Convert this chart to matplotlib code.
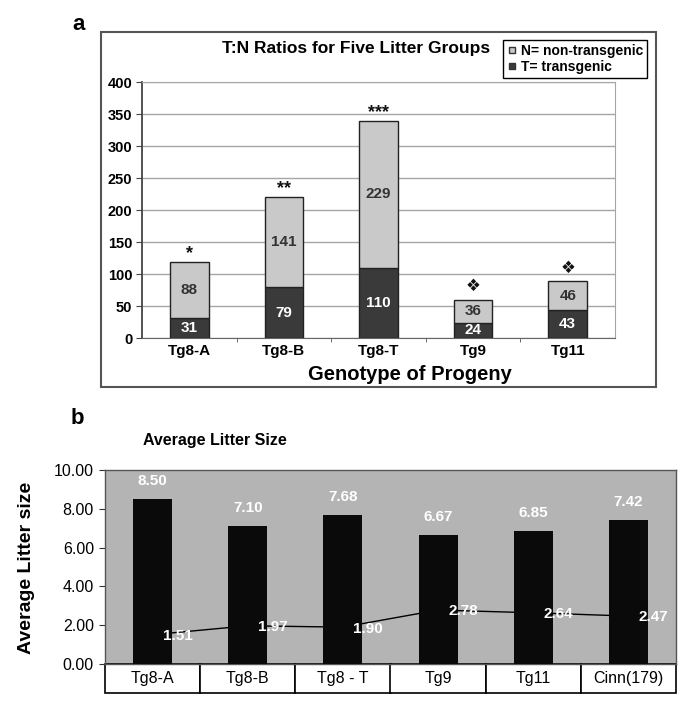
import matplotlib
matplotlib.use("Agg")
import matplotlib.pyplot as plt
import matplotlib.transforms as mtransforms
from matplotlib.patches import Rectangle
from matplotlib.lines import Line2D
import numpy as np

plt.rcParams['font.family'] = ['Liberation Sans', 'DejaVu Sans']

# panel a data
groups_a = ['Tg8-A', 'Tg8-B', 'Tg8-T', 'Tg9', 'Tg11']
transgenic = [31, 79, 110, 24, 43]
non_transgenic = [88, 141, 229, 36, 46]
signif = ['*', '**', '***', '\u2756', '\u2756']

# panel b data
groups_b = ['Tg8-A', 'Tg8-B', 'Tg8 - T', 'Tg9', 'Tg11', 'Cinn(179)']
litter_size = [8.50, 7.10, 7.68, 6.67, 6.85, 7.42]
ratio_line = [1.51, 1.97, 1.90, 2.78, 2.64, 2.47]

W, H = 685, 704
fig = plt.figure(figsize=(W / 100, H / 100), dpi=100)

dark = '#3a3a3a'
light = '#c9c9c9'

# ---------------- panel a ----------------
fig.patches.append(Rectangle((101 / W, 1 - 387 / H), 555 / W, 355 / H,
                             transform=fig.transFigure, fill=False,
                             edgecolor='#555555', lw=1.5))
fig.text(79 / W, 1 - 25 / H, 'a', fontsize=16, fontweight='bold',
         ha='center', va='center')

axa = fig.add_axes([142 / W, 1 - 338 / H, 473 / W, 256 / H])
x = np.arange(len(groups_a))
axa.bar(x, transgenic, 0.41, color=dark, edgecolor='#222222', lw=1, zorder=3)
axa.bar(x, non_transgenic, 0.41, bottom=transgenic, color=light,
        edgecolor='#222222', lw=1, zorder=3)
for i in range(len(x)):
    t = transgenic[i]
    n = non_transgenic[i]
    axa.text(x[i], t / 2, str(t), color='white', fontsize=11,
             fontweight='bold', ha='center', va='center', zorder=4)
    axa.text(x[i], t + n / 2, str(n), color='#333333', fontsize=11,
             fontweight='bold', ha='center', va='center', zorder=4)
    if signif[i] == '\u2756':
        axa.annotate(signif[i], (x[i], t + n), xytext=(0, 3),
                     textcoords='offset points', ha='center', va='bottom',
                     fontsize=12, family='DejaVu Sans', color='#111111')
    else:
        axa.annotate(signif[i], (x[i], t + n), xytext=(0, 3),
                     textcoords='offset points', ha='center', va='baseline',
                     fontsize=13, fontweight='bold', color='#111111')

axa.set_xlim(-0.5, 4.5)
axa.set_ylim(0, 400)
axa.set_yticks(np.arange(0, 401, 50))
axa.yaxis.grid(True, color='#a6a6a6', lw=1)
axa.set_axisbelow(True)
axa.set_xticks(x)
axa.set_xticklabels(groups_a, fontsize=11, fontweight='bold')
axa.set_xticks(np.arange(0.5, 4.5, 1), minor=True)
axa.tick_params(axis='x', which='major', length=0, pad=4)
axa.tick_params(axis='x', which='minor', length=3, color='#555555',
                direction='out')
axa.tick_params(axis='y', length=4, color='#444444', pad=3)
for lab in axa.get_yticklabels():
    lab.set_fontweight('bold')
    lab.set_fontsize(10.5)
axa.spines['left'].set_color('#444444')
axa.spines['left'].set_linewidth(1.3)
axa.spines['bottom'].set_color('#666666')
for s in ['top', 'right']:
    axa.spines[s].set_color('#a6a6a6')

fig.text(356 / W, 1 - 48 / H, 'T:N Ratios for Five Litter Groups',
         fontsize=12.5, fontweight='bold', ha='center', va='center')
fig.text(410 / W, 1 - 375 / H, 'Genotype of Progeny', fontsize=14.5,
         fontweight='bold', ha='center', va='center')

handles = [Line2D([], [], marker='s', ls='none', mfc=light, mec='#333333',
                  ms=5),
           Line2D([], [], marker='s', ls='none', mfc=dark, mec='#333333',
                  ms=5)]
leg = fig.legend(handles, ['N= non-transgenic', 'T= transgenic'],
                 loc='upper right', bbox_to_anchor=(647 / W, 1 - 40 / H),
                 bbox_transform=fig.transFigure, frameon=True, fancybox=False,
                 edgecolor='black', framealpha=1, borderpad=0.3,
                 borderaxespad=0, handletextpad=0.2, handlelength=0.8,
                 labelspacing=0.15, prop={'weight': 'bold', 'size': 10})
leg.get_frame().set_linewidth(1)

# ---------------- panel b ----------------
fig.text(77 / W, 1 - 418 / H, 'b', fontsize=16, fontweight='bold',
         ha='center', va='center')
fig.text(215 / W, 1 - 440 / H, 'Average Litter Size', fontsize=11.5,
         fontweight='bold', ha='center', va='center')
fig.text(27 / W, 1 - 568 / H, 'Average Litter size', fontsize=14,
         fontweight='bold', ha='center', va='center', rotation=90)

axb = fig.add_axes([105 / W, 1 - 664 / H, 571 / W, 194 / H])
axb.set_facecolor('#b4b4b4')
xb = np.arange(len(groups_b))
axb.plot(xb, ratio_line, color='black', lw=1, zorder=2)
axb.bar(xb, litter_size, 0.41, color='#0a0a0a', zorder=3)
for i in range(len(xb)):
    axb.annotate('%.2f' % litter_size[i], (xb[i], litter_size[i]),
                 xytext=(0, 13), textcoords='offset points', ha='center',
                 va='center', color='white', fontsize=11, fontweight='bold',
                 zorder=5)
    axb.annotate('%.2f' % ratio_line[i], (xb[i], ratio_line[i]),
                 xytext=(18, -1), textcoords='offset points', ha='center',
                 va='center', color='white', fontsize=11, fontweight='bold',
                 zorder=5)

axb.set_xlim(-0.5, 5.5)
axb.set_ylim(0, 10)
axb.set_yticks(np.arange(0, 10.1, 2))
axb.set_yticklabels(['%.2f' % v for v in np.arange(0, 10.1, 2)],
                    fontsize=11.5)
axb.tick_params(axis='y', length=4, color='#333333', pad=4)
axb.set_xticks([])
for s in axb.spines.values():
    s.set_color('#555555')
    s.set_linewidth(1)

# category table under the axis
trans = mtransforms.blended_transform_factory(axb.transData, axb.transAxes)
cell_h = 29 / 194
for i in range(len(xb)):
    axb.add_patch(Rectangle((xb[i] - 0.5, -cell_h), 1, cell_h,
                            transform=trans, clip_on=False,
                            facecolor='white', edgecolor='black', lw=1.2))
    axb.text(xb[i], -cell_h / 2, groups_b[i], transform=trans, ha='center',
             va='center', fontsize=11.5)

fig.savefig('out.png', dpi=100)
